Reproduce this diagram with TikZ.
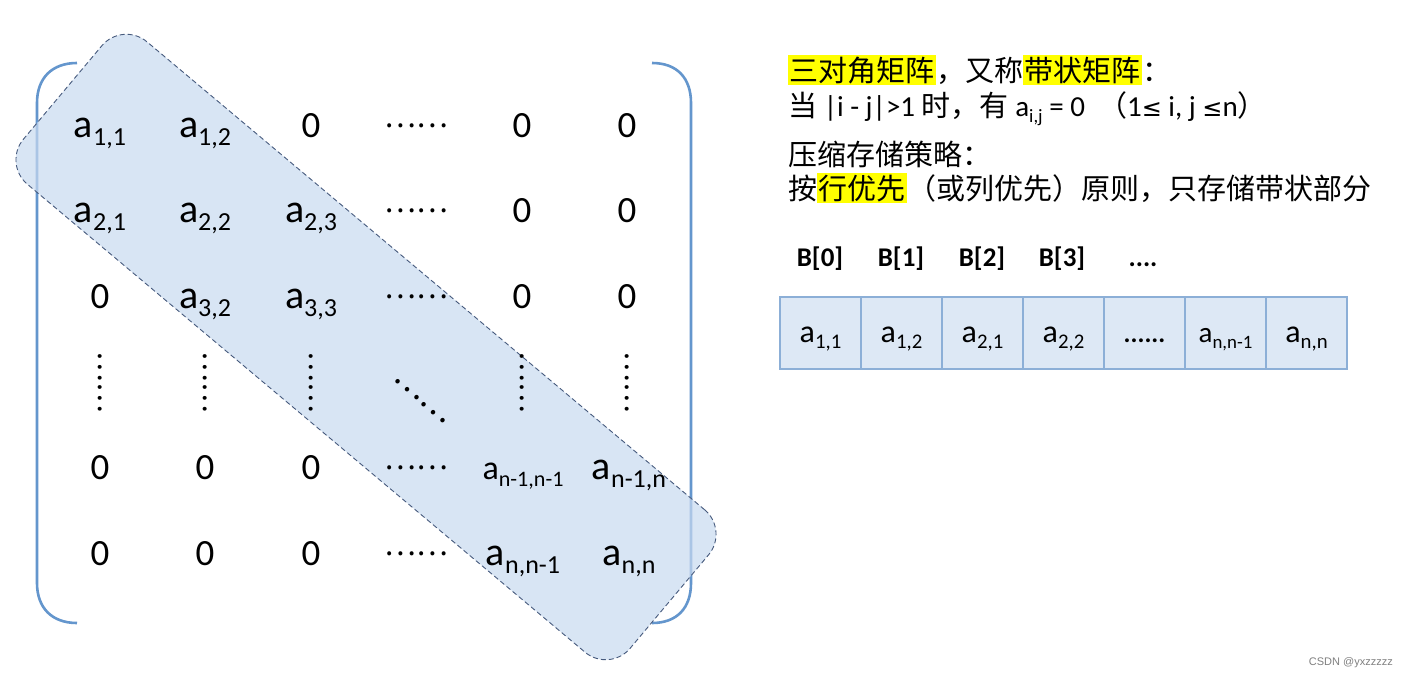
\documentclass[tikz,border=0pt]{standalone}
\usepackage{fontspec}
\setmainfont{Carlito}
\newfontfamily\cjk{Noto Sans CJK SC}
\newfontfamily\dejavu{DejaVu Sans}
\newfontfamily\wm{Liberation Sans}
\newcommand\ix[1]{\raisebox{-0.21em}{\scalebox{0.65}{#1}}}
\newcommand\hl[1]{{\setlength{\fboxsep}{1.5pt}\colorbox{hlyellow}{#1}}}
\definecolor{hlyellow}{RGB}{255,255,0}
\definecolor{brk}{RGB}{100,150,205}
\definecolor{bandfill}{RGB}{200,218,240}
\definecolor{banddraw}{RGB}{70,90,125}
\definecolor{cellfill}{RGB}{221,232,245}
\definecolor{celldraw}{RGB}{140,175,215}
\begin{document}
\begin{tikzpicture}[x=1pt,y=1pt,
  ent/.style={anchor=base, inner sep=0pt, font=\fontsize{40}{44}\selectfont},
  entsm/.style={anchor=base, inner sep=0pt, font=\fontsize{34}{38}\selectfont},
  zero/.style={anchor=base, inner sep=0pt, font=\fontsize{37}{40}\selectfont},
  hdots/.style={anchor=center, inner sep=0pt, font=\cjk\fontsize{30}{32}\selectfont},
  vdots/.style={anchor=center, inner sep=0pt, rotate=-90, font=\cjk\fontsize{29}{32}\selectfont},
  bracket/.style={draw=brk, line width=2.6pt},
  band/.style={draw=banddraw, line width=0.9pt, dash pattern=on 5pt off 3pt,
    fill=bandfill, fill opacity=0.7, rounded corners=32pt,
    minimum width=792pt, minimum height=186pt, inner sep=0pt},
  txt/.style={anchor=base west, inner sep=0pt, font=\fontsize{29}{32}\selectfont},
  blab/.style={anchor=base, inner sep=0pt, font=\bfseries\fontsize{27}{30}\selectfont},
  cell/.style={draw=celldraw, fill=cellfill, line width=1.2pt, minimum width=81pt,
    minimum height=72pt, inner sep=0pt},
  cval/.style={anchor=base, inner sep=0pt, font=\fontsize{32}{34}\selectfont},
]
\useasboundingbox (0,0) rectangle (1407,-680);
\fill[white] (0,0) rectangle (1407,-680);

% brackets
\draw[bracket] (77,-63) .. controls (52,-63) and (37,-78) .. (37,-103) -- (37,-583)
  .. controls (37,-608) and (52,-623) .. (77,-623);
\draw[bracket] (652,-63) .. controls (677,-63) and (691,-78) .. (691,-103) -- (691,-583)
  .. controls (691,-608) and (677,-623) .. (652,-623);

% band
\node[band, rotate=-40] (band) at (366,-347) {};

% row 1
\node[ent]  (m11) at (100,-137) {a\ix{1,1}};
\node[ent]  (m12) at (205,-137) {a\ix{1,2}};
\node[zero] (m13) at (311,-137) {0};
\node[hdots](m14) at (416,-126) {……};
\node[zero] (m15) at (522,-137) {0};
\node[zero] (m16) at (627,-137) {0};
% row 2
\node[ent]  (m21) at (100,-222) {a\ix{2,1}};
\node[ent]  (m22) at (205,-222) {a\ix{2,2}};
\node[ent]  (m23) at (311,-222) {a\ix{2,3}};
\node[hdots](m24) at (416,-211) {……};
\node[zero] (m25) at (522,-222) {0};
\node[zero] (m26) at (627,-222) {0};
% row 3
\node[zero] (m31) at (100,-308) {0};
\node[ent]  (m32) at (205,-308) {a\ix{3,2}};
\node[ent]  (m33) at (311,-308) {a\ix{3,3}};
\node[hdots](m34) at (416,-297) {……};
\node[zero] (m35) at (522,-308) {0};
\node[zero] (m36) at (627,-308) {0};
% row 4
\node[vdots] (m41) at (100,-382) {……};
\node[vdots] (m42) at (205,-382) {……};
\node[vdots] (m43) at (311,-382) {……};
\node[anchor=center, inner sep=0pt, rotate=-40, font=\cjk\fontsize{33}{35}\selectfont] (m44) at (420,-401) {……};
\node[vdots] (m45) at (522,-382) {……};
\node[vdots] (m46) at (627,-382) {……};
% row 5
\node[zero] (m51) at (100,-479) {0};
\node[zero] (m52) at (205,-479) {0};
\node[zero] (m53) at (311,-479) {0};
\node[hdots](m54) at (416,-468) {……};
\node[entsm](m55) at (523,-479) {a\ix{n-1,n-1}};
\node[ent]  (m56) at (629,-479) {a\ix{n-1,n}};
% row 6
\node[zero] (m61) at (100,-565) {0};
\node[zero] (m62) at (205,-565) {0};
\node[zero] (m63) at (311,-565) {0};
\node[hdots](m64) at (416,-554) {……};
\node[ent]  (m65) at (523,-565) {a\ix{n,n-1}};
\node[ent]  (m66) at (629,-565) {a\ix{n,n}};

% right text
\node[txt] (t1) at (788,-81) {\cjk\hl{三对角矩阵}，又称\hl{带状矩阵}：};
\node[txt] (t2) at (788,-116) {{\cjk 当} |i - j|>1 {\cjk 时，有} a\ix{i,j} = 0 \ {\cjk （}1{\dejavu\fontsize{24}{26}\selectfont ≤} i, j {\dejavu\fontsize{24}{26}\selectfont ≤}n{\cjk ）}};
\node[txt] (t3) at (788,-165) {\cjk 压缩存储策略：};
\node[txt] (t4) at (788,-199) {\cjk 按\hl{行优先}（或列优先）原则，只存储带状部分};

% B labels
\node[blab] (b0) at (820,-266) {B[0]};
\node[blab] (b1) at (901,-266) {B[1]};
\node[blab] (b2) at (982,-266) {B[2]};
\node[blab] (b3) at (1062,-266) {B[3]};
\node[blab] (b4) at (1143,-266) {....};

% array
\node[cell] (c1) at (820.5,-333) {};
\node[cell] (c2) at (901.5,-333) {};
\node[cell] (c3) at (982.5,-333) {};
\node[cell] (c4) at (1063.5,-333) {};
\node[cell] (c5) at (1144.5,-333) {};
\node[cell] (c6) at (1225.5,-333) {};
\node[cell] (c7) at (1306.5,-333) {};
\node[cval] (v1) at (c1.center) [yshift=-9pt] {a\ix{1,1}};
\node[cval] (v2) at (c2.center) [yshift=-9pt] {a\ix{1,2}};
\node[cval] (v3) at (c3.center) [yshift=-9pt] {a\ix{2,1}};
\node[cval] (v4) at (c4.center) [yshift=-9pt] {a\ix{2,2}};
\node[cval, font=\bfseries\fontsize{26}{28}\selectfont] (v5) at (c5.center) [yshift=-9pt] {......};
\node[cval, font=\fontsize{29}{30}\selectfont] (v6) at (c6.center) [yshift=-9pt] {a\ix{n,n-1}};
\node[cval] (v7) at (c7.center) [yshift=-9pt] {a\ix{n,n}};

% watermark
\node[anchor=east, inner sep=0pt, text=black!50, font=\wm\fontsize{11}{13}\selectfont] (wm) at (1393,-663) {CSDN @yxzzzzz};
\end{tikzpicture}
\end{document}
